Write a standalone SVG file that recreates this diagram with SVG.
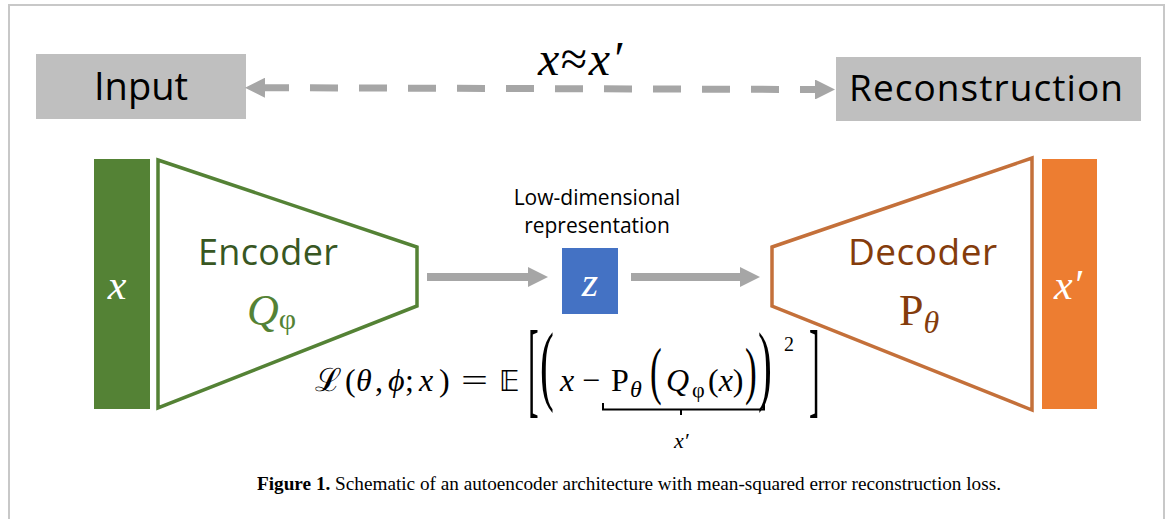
<svg xmlns="http://www.w3.org/2000/svg" width="1168" height="519" viewBox="0 0 1168 519">
  <style>
    .sans { font-family: "Open Sans", "Liberation Sans", sans-serif; }
    .serif { font-family: "Liberation Serif", "DejaVu Serif", serif; }
    .it { font-style: italic; }
    .up { font-style: normal; }
    .label { fill: #bfbfbf; }
    .conn { stroke: #a6a6a6; fill: none; }
    .math { fill: #000; font-size: 32px; }
  </style>
  <defs>
    <marker id="head" viewBox="0 0 20 20" refX="0" refY="10" markerWidth="20" markerHeight="20" markerUnits="userSpaceOnUse" orient="auto-start-reverse">
      <path d="M0,0 L20,10 L0,20 Z" fill="#a6a6a6"/>
    </marker>
  </defs>

  <rect width="1168" height="519" fill="#ffffff"/>
  <!-- page frame (open at the bottom) -->
  <path d="M9,519 V5 H1164 V519" fill="none" stroke="#c8c8c8" stroke-width="2"/>

  <!-- top labels -->
  <g id="input">
    <rect class="label" x="36" y="54" width="210" height="65"/>
    <text class="sans" x="141" y="100" font-size="38" text-anchor="middle" fill="#000">Input</text>
  </g>
  <g id="reconstruction">
    <rect class="label" x="836" y="57" width="305" height="64"/>
    <text class="sans" x="849" y="101" font-size="37" textLength="274" fill="#000">Reconstruction</text>
  </g>
  <text id="approx" class="serif" x="538" y="75" font-size="48" textLength="84"><tspan class="it">x</tspan>≈<tspan class="it">x′</tspan></text>

  <!-- input vector -->
  <g id="x-in">
    <rect x="94" y="159" width="56" height="250" fill="#548235"/>
    <text class="serif it" x="117" y="299" font-size="42" text-anchor="middle" fill="#fff">x</text>
  </g>

  <!-- encoder -->
  <g id="encoder">
    <polygon points="158,160 417,247 417,306 158,408" fill="#fff" stroke="#548235" stroke-width="3.5"/>
    <text class="sans" x="198" y="265" font-size="36" textLength="140" fill="#385723">Encoder</text>
    <text class="serif" x="247" y="325" fill="#548235"><tspan class="it" font-size="44">Q</tspan><tspan font-size="30" dy="4">φ</tspan></text>
  </g>

  <!-- latent code -->
  <g id="latent">
    <text class="sans" x="597" y="205" font-size="21" text-anchor="middle" fill="#000">Low-dimensional</text>
    <text class="sans" x="597" y="233" font-size="21" text-anchor="middle" fill="#000">representation</text>
    <rect x="562" y="248" width="56" height="66" fill="#4472c4"/>
    <text class="serif it" x="590" y="296" font-size="42" text-anchor="middle" fill="#fff">z</text>
  </g>

  <!-- decoder -->
  <g id="decoder">
    <polygon points="772,247 1032,158 1032,410 772,306" fill="#fff" stroke="#c4703a" stroke-width="3.5"/>
    <text class="sans" x="848" y="265" font-size="37" textLength="149" fill="#843c0c">Decoder</text>
    <text class="serif" x="899" y="325" fill="#843c0c"><tspan font-size="44">P</tspan><tspan class="it" font-size="32" dy="8">θ</tspan></text>
  </g>

  <!-- reconstructed vector -->
  <g id="x-out">
    <rect x="1042" y="159" width="55" height="250" fill="#ed7d31"/>
    <text class="serif it" x="1068" y="299" font-size="42" text-anchor="middle" fill="#fff">x′</text>
  </g>

  <!-- connectors -->
  <g id="connectors">
    <line class="conn" x1="265" y1="87.7" x2="815" y2="89.5" stroke-width="7" stroke-dasharray="28 21" stroke-dashoffset="4" marker-start="url(#head)" marker-end="url(#head)"/>
    <line class="conn" x1="427" y1="277" x2="528" y2="277" stroke-width="8" marker-end="url(#head)"/>
    <line class="conn" x1="631" y1="277" x2="740" y2="277" stroke-width="8" marker-end="url(#head)"/>
  </g>

  <!-- reconstruction loss -->
  <g id="loss" class="serif math">
    <text x="315" y="391" class="up">ℒ</text>
    <text x="345" y="391">(</text>
    <text x="356" y="391" class="it">θ</text>
    <text x="375" y="391">,</text>
    <text x="388" y="391" class="it">ϕ</text>
    <text x="405" y="391">;</text>
    <text x="419" y="391" class="it">x</text>
    <text x="439" y="391">)</text>
    <text x="461" y="391" textLength="27" lengthAdjust="spacingAndGlyphs">=</text>
    <text x="499" y="391" font-family="DejaVu Sans, sans-serif" font-size="28">𝔼</text>
    <text transform="translate(528,404) scale(1,3.3)">[</text>
    <text transform="translate(540,394.4) scale(1.3,2.75)">(</text>
    <text x="560" y="391" class="it">x</text>
    <text x="582" y="391">−</text>
    <text x="611" y="391">P</text>
    <text x="630" y="397" class="it" font-size="24">θ</text>
    <text transform="translate(650,392.3) scale(1.1,2)">(</text>
    <text x="666" y="391" class="it">Q</text>
    <text x="692" y="397" font-size="22">φ</text>
    <text x="708" y="391">(<tspan class="it">x</tspan>)</text>
    <text transform="translate(745,392.3) scale(1.1,2)">)</text>
    <text transform="translate(758,394.4) scale(1.3,2.75)">)</text>
    <text x="784" y="351" font-size="20">2</text>
    <text transform="translate(809,404) scale(1,3.3)">]</text>
    <!-- underbrace marking the reconstruction -->
    <path d="M603,403 V409.5 H764 V403 M681,409.5 V415" fill="none" stroke="#000" stroke-width="2"/>
    <text x="674" y="448" class="it" font-size="22">x′</text>
  </g>

  <!-- caption -->
  <text id="caption" class="serif" x="257" y="490" font-size="19.5" textLength="744" lengthAdjust="spacingAndGlyphs" fill="#000"><tspan font-weight="bold">Figure 1.</tspan> Schematic of an autoencoder architecture with mean-squared error reconstruction loss.</text>
</svg>
